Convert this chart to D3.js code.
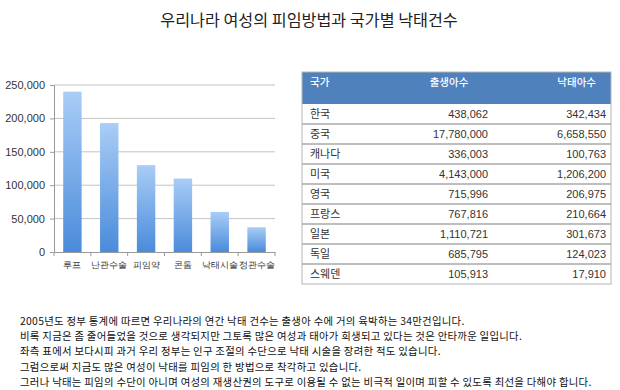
<!DOCTYPE html>
<html><head><meta charset="utf-8">
<script src="https://cdn.jsdelivr.net/npm/d3@7/dist/d3.min.js"></script>
<style>
html,body{margin:0;padding:0;background:#fff;}
svg{display:block;font-family:"Noto Sans CJK KR","Noto Sans",sans-serif;}
</style></head>
<body>
<svg id="c" width="620" height="390"></svg>
<script>
const title = "우리나라 여성의 피임방법과 국가별 낙태건수";
const methods = ["루프","난관수술","피임약","콘돔","낙태시술","정관수술"];
const methodValues = [240000,193000,130000,110000,60000,37000];
const yTicks = [0,50000,100000,150000,200000,250000];

const tableHeaders = ["국가","출생아수","낙태아수"];
const countries = ["한국","중국","캐나다","미국","영국","프랑스","일본","독일","스웨덴"];
const births = [438062,17780000,336003,4143000,715996,767816,1110721,685795,105913];
const abortions = [342434,6658550,100763,1206200,206975,210664,301673,124023,17910];

const paragraph = [
"2005년도 정부 통계에 따르면 우리나라의 연간 낙태 건수는 출생아 수에 거의 육박하는 34만건입니다.",
"비록 지금은 좀 줄어들었을 것으로 생각되지만 그토록 많은 여성과 태아가 희생되고 있다는 것은 안타까운 일입니다.",
"좌측 표에서 보다시피 과거 우리 정부는 인구 조절의 수단으로 낙태 시술을 장려한 적도 있습니다.",
"그럼으로써 지금도 많은 여성이 낙태를 피임의 한 방법으로 착각하고 있습니다.",
"그러나 낙태는 피임의 수단이 아니며 여성의 재생산권의 도구로 이용될 수 없는 비극적 일이며 피할 수 있도록 최선을 다해야 합니다."
];

const svg = d3.select("#c");
const fmt = d3.format(",");

// title
svg.append("text").attr("x",309).attr("y",26).attr("text-anchor","middle")
  .attr("font-size",16.2).attr("fill","#222").text(title);

// gradient
const defs = svg.append("defs");
const g1 = defs.append("linearGradient").attr("id","bg").attr("x1",0).attr("y1",0).attr("x2",0).attr("y2",1);
g1.append("stop").attr("offset","0%").attr("stop-color","#a9cdf6");
g1.append("stop").attr("offset","100%").attr("stop-color","#4a8bdb");

// chart
const x = d3.scaleBand().domain(methods).range([54,275]).paddingInner(0.5).paddingOuter(0.25);
const y = d3.scaleLinear().domain([0,250000]).range([252,85]);

const chart = svg.append("g");
chart.selectAll("line.grid").data(yTicks.filter(d=>d>0)).join("line")
  .attr("class","grid").attr("x1",54).attr("x2",275)
  .attr("y1",d=>y(d)).attr("y2",d=>y(d)).attr("stroke","#c4c4c4").attr("stroke-width",1);

chart.selectAll("rect.bar").data(methods).join("rect").attr("class","bar")
  .attr("x",d=>x(d)).attr("width",x.bandwidth())
  .attr("y",(d,i)=>y(methodValues[i])).attr("height",(d,i)=>y(0)-y(methodValues[i]))
  .attr("fill","url(#bg)");

const yAxis = chart.append("g").attr("transform","translate(54,0)")
  .call(d3.axisLeft(y).tickValues(yTicks).tickFormat(fmt).tickSize(4).tickPadding(5));
yAxis.select(".domain").attr("stroke","#999");
yAxis.selectAll(".tick line").attr("stroke","#999");
yAxis.selectAll("text").attr("font-size",11).attr("fill","#333").attr("font-family","'Liberation Sans',Arial,sans-serif");

const xAxis = chart.append("g").attr("transform","translate(0,252)")
  .call(d3.axisBottom(x).tickSize(0).tickPadding(9));
xAxis.select(".domain").attr("stroke","#999");
xAxis.selectAll("text").attr("font-size",9.4).attr("fill","#333");
// category boundary ticks
const bounds = [0,1,2,3,4,5,6].map(i=> i<6 ? x(methods[i]) - x.step()*x.paddingInner()/2 : x(methods[5]) + x.bandwidth() + x.step()*x.paddingInner()/2);
chart.selectAll("line.xt").data(bounds).join("line").attr("class","xt")
  .attr("x1",d=>d).attr("x2",d=>d).attr("y1",252).attr("y2",256).attr("stroke","#999");

// table
const tx0 = 302, tx1 = 611, hy0 = 72, hy1 = 104, rowH = 20;
const tbl = svg.append("g");
tbl.append("rect").attr("x",tx0).attr("y",hy0).attr("width",tx1-tx0).attr("height",hy1-hy0).attr("fill","#4f81bd");
tbl.append("rect").attr("x",tx0).attr("y",hy0).attr("width",tx1-tx0).attr("height",hy1-hy0+rowH*countries.length)
  .attr("fill","none").attr("stroke","#b5b5b5").attr("stroke-width",1);
const hx = [{x:310,a:"start"},{x:449,a:"middle"},{x:596,a:"end"}];
tbl.selectAll("text.h").data(tableHeaders).join("text").attr("class","h")
  .attr("x",(d,i)=>hx[i].x).attr("y",86).attr("text-anchor",(d,i)=>hx[i].a)
  .attr("font-size",10.5).attr("font-weight",500).attr("fill","#fff").text(d=>d);
tbl.selectAll("line.row").data(countries.slice(1)).join("line").attr("class","row")
  .attr("x1",tx0).attr("x2",tx1)
  .attr("y1",(d,i)=>hy1+rowH*(i+1)).attr("y2",(d,i)=>hy1+rowH*(i+1))
  .attr("stroke","#a9a9a9").attr("stroke-width",1.5);
const rows = tbl.selectAll("g.r").data(countries).join("g").attr("class","r")
  .attr("transform",(d,i)=>`translate(0,${hy1+rowH*i+rowH/2+4})`);
rows.append("text").attr("x",310).attr("font-size",11).attr("fill","#333").text(d=>d);
rows.append("text").attr("x",488).attr("text-anchor","end").attr("font-size",11).attr("fill","#333")
  .attr("font-family","'Liberation Sans',Arial,sans-serif").text((d,i)=>fmt(births[i]));
rows.append("text").attr("x",606).attr("text-anchor","end").attr("font-size",11).attr("fill","#333")
  .attr("font-family","'Liberation Sans',Arial,sans-serif").text((d,i)=>fmt(abortions[i]));

// paragraph
svg.selectAll("text.p").data(paragraph).join("text").attr("class","p")
  .attr("x",20).attr("y",(d,i)=>325+i*15.2).attr("font-size",10.4)
  .attr("letter-spacing",0.28).attr("fill","#111").text(d=>d);
</script>
</body></html>
